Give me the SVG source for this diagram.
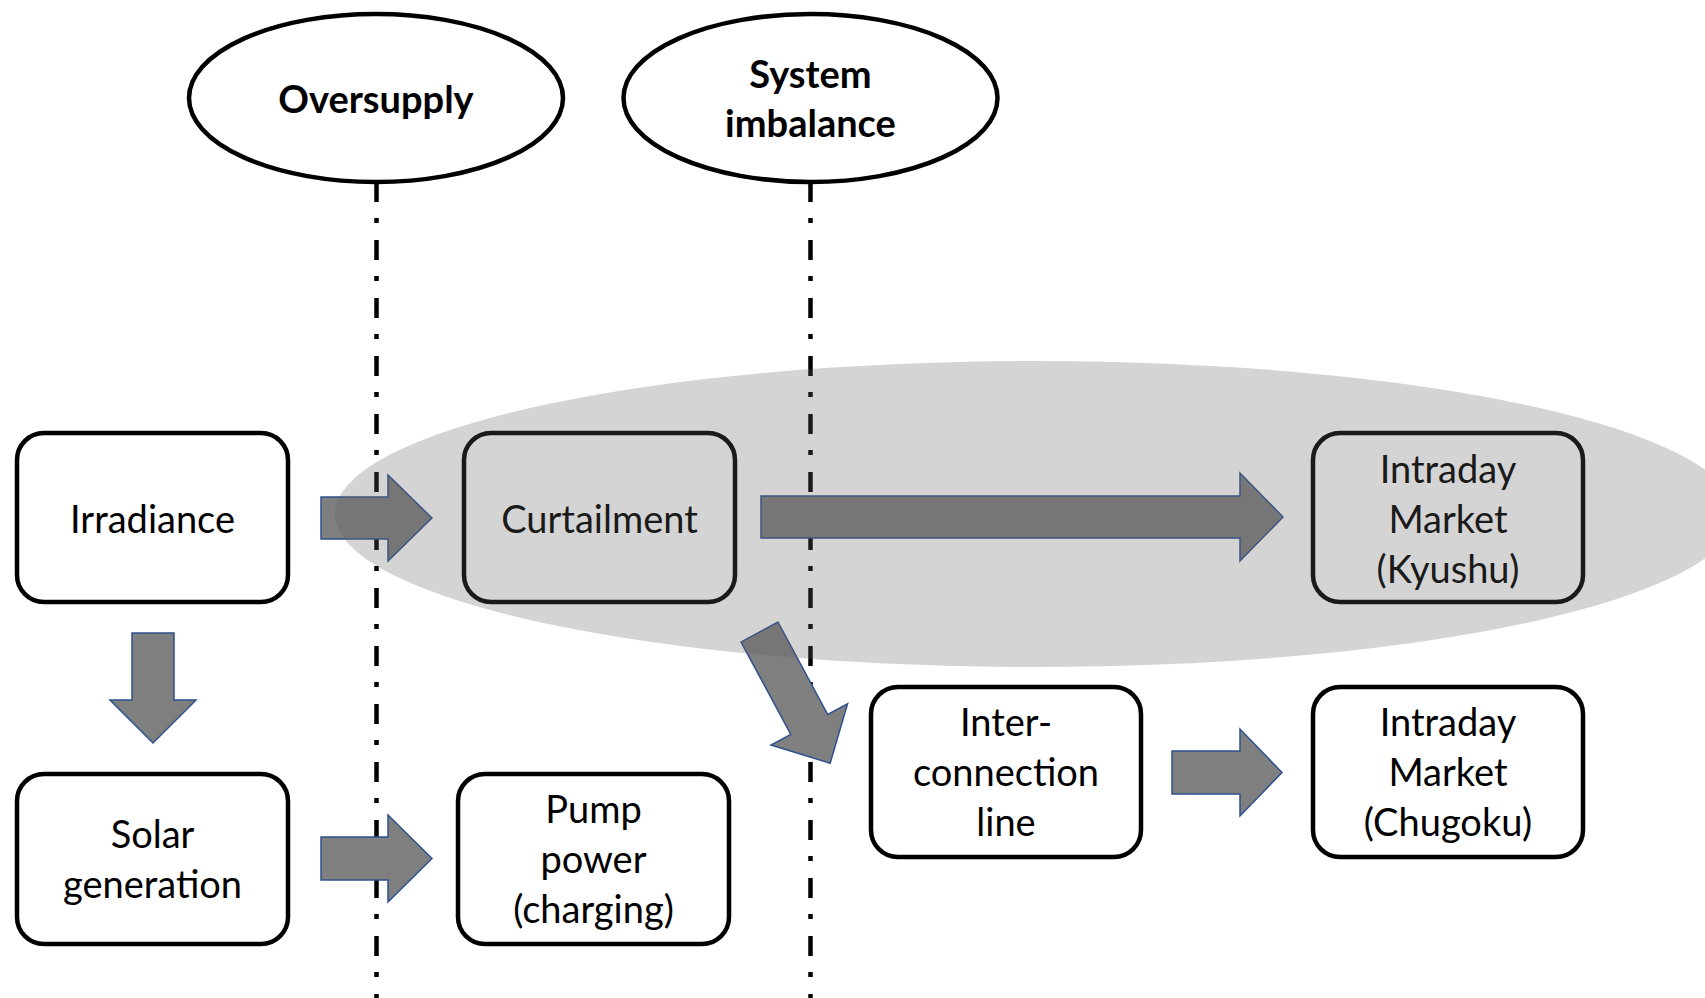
<svg xmlns="http://www.w3.org/2000/svg" width="1705" height="998" viewBox="0 0 1705 998">
  <style>
    .box { fill: #ffffff; stroke: #000000; stroke-width: 4.5; }
    .oval { fill: #ffffff; stroke: #000000; stroke-width: 4.5; }
    .txt { font-family: Lato, "Liberation Sans", sans-serif; font-size: 38px; fill: #000000; text-anchor: middle; }
    .bold { font-weight: bold; }
    .arrow { fill: #7f7f7f; stroke: #2F528F; stroke-width: 1.5; stroke-linejoin: miter; }
    .divider { stroke: #000000; stroke-width: 4.5; stroke-dasharray: 20 16 5 17; fill: none; }
  </style>
  <rect x="0" y="0" width="1705" height="998" fill="#ffffff"/>

  <g id="dividers">
    <line class="divider" x1="376.5" y1="182" x2="376.5" y2="998"/>
    <line class="divider" x1="810.5" y1="182" x2="810.5" y2="998"/>
  </g>

  <g id="oversupply">
    <ellipse class="oval" cx="376" cy="98" rx="187" ry="84"/>
    <text class="txt bold" x="376" y="113">Oversupply</text>
  </g>
  <g id="system-imbalance">
    <ellipse class="oval" cx="810.5" cy="98" rx="187" ry="84"/>
    <text class="txt bold" x="810.5" y="88">System</text>
    <text class="txt bold" x="810.5" y="137">imbalance</text>
  </g>

  <g id="irradiance">
    <rect class="box" x="17" y="433" width="271" height="169" rx="27"/>
    <text class="txt" x="152.5" y="533">Irradiance</text>
  </g>
  <g id="curtailment">
    <rect class="box" x="464" y="433" width="271" height="169" rx="27"/>
    <text class="txt" x="599.5" y="533">Curtailment</text>
  </g>
  <g id="intraday-kyushu">
    <rect class="box" x="1313" y="433" width="270" height="169" rx="27"/>
    <text class="txt" x="1448" y="483">Intraday</text>
    <text class="txt" x="1448" y="533">Market</text>
    <text class="txt" x="1448" y="583">(Kyushu)</text>
  </g>
  <g id="solar-generation">
    <rect class="box" x="17" y="774" width="271" height="170" rx="27"/>
    <text class="txt" x="152.5" y="848">Solar</text>
    <text class="txt" x="152.5" y="898">generation</text>
  </g>
  <g id="pump-power">
    <rect class="box" x="458" y="774" width="271" height="170" rx="27"/>
    <text class="txt" x="593.5" y="823">Pump</text>
    <text class="txt" x="593.5" y="873">power</text>
    <text class="txt" x="593.5" y="923">(charging)</text>
  </g>
  <g id="interconnection-line">
    <rect class="box" x="871" y="687" width="270" height="170" rx="27"/>
    <text class="txt" x="1006" y="736">Inter-</text>
    <text class="txt" x="1006" y="786">connection</text>
    <text class="txt" x="1006" y="836">line</text>
  </g>
  <g id="intraday-chugoku">
    <rect class="box" x="1313" y="687" width="270" height="170" rx="27"/>
    <text class="txt" x="1448" y="736">Intraday</text>
    <text class="txt" x="1448" y="786">Market</text>
    <text class="txt" x="1448" y="836">(Chugoku)</text>
  </g>

  <g id="connectors">
    <path class="arrow" d="M321,497 H388 V475 L432,518 L388,561 V539 H321 Z"/>
    <path class="arrow" d="M761,496 H1240 V473 L1283,517 L1240,561 V538 H761 Z"/>
    <path class="arrow" d="M132,633 V700 H110 L153,743 L196,700 H174 V633 Z"/>
    <path class="arrow" d="M321,837 H388 V815 L432,858.5 L388,902 V880 H321 Z"/>
    <path class="arrow" d="M1172,751 H1240 V729 L1282,772.5 L1240,816 V794 H1172 Z"/>
    <path class="arrow" transform="translate(759.5,632) rotate(61.7)" d="M0,-21 H105 V-43.5 L149,0 L105,43.5 V21 H0 Z"/>
  </g>

  <g id="highlight">
    <ellipse cx="1035" cy="514" rx="700" ry="153" fill="#5f5f5f" fill-opacity="0.27"/>
  </g>
</svg>
